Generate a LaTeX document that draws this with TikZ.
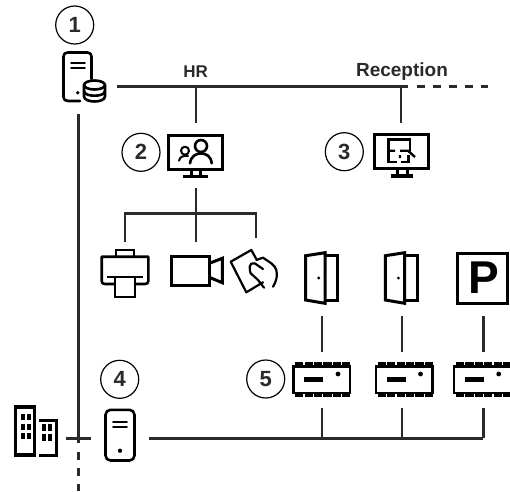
\documentclass[tikz,border=0pt]{standalone}
\usepackage{fontspec}
\setmainfont{Liberation Sans}
\definecolor{ink}{HTML}{000000}
\definecolor{wire}{HTML}{2A2A2C}
\tikzset{
  numcircle/.style={circle,draw=ink,line width=1.2pt,minimum size=38pt,inner sep=0pt,font=\bfseries\fontsize{22}{24}\selectfont,text=wire},
  lbl/.style={inner sep=0pt,font=\bfseries\fontsize{17}{18}\selectfont,text=wire},
  wireline/.style={draw=wire,line width=2.4pt},
  dashline/.style={draw=wire,line width=2.4pt,dash pattern=on 7.5pt off 8.5pt},
  icon/.style={draw=ink,line width=3pt,line join=miter},
  iconr/.style={draw=ink,line width=2.6pt,line join=round,line cap=round},
}
\newcommand{\doorIcon}[1]{\begin{scope}[shift={(#1,0)}]
  \draw[icon] (305.7,255.7) -- (325,252.7) -- (325,303.3) -- (305.7,300) -- cycle;
  \draw[icon] (325,255.7) -- (337.7,255.7) -- (337.7,300.7) -- (325,300.7);
  \fill[ink] (318.7,278) circle (1.6);
\end{scope}}
\newcommand{\ctrlIcon}[1]{\begin{scope}[shift={(#1,0)}]
  \draw[icon,line width=2.4pt] (293.5,366.5) rectangle (350,393);
  \foreach \i in {0,...,5}{
    \fill[ink] (295.2+\i*9.4,362) rectangle ++(8.2,4);
    \fill[ink] (295.2+\i*9.4,393.5) rectangle ++(8.2,3.4);
  }
  \fill[ink] (304,377) rectangle (323.3,382);
  \fill[ink] (338,374) circle (2.4);
\end{scope}}
\begin{document}
\begin{tikzpicture}[x=1pt,y=-1pt]
\clip (0,0) rectangle (510,491);
\fill[white] (0,0) rectangle (510,491);
% number circles
\node[numcircle] (n1) at (74.7,25) {1};
\node[numcircle] (n2) at (141,152.3) {2};
\node[numcircle] (n3) at (344.3,151.7) {3};
\node[numcircle] (n4) at (119.7,379.3) {4};
\node[numcircle] (n5) at (265.7,379) {5};
% labels
\node[lbl] (hr) at (195.7,72) {HR};
\node[lbl,font=\bfseries\fontsize{19}{20}\selectfont] (rec) at (402,71.5) {Reception};
% connector coordinates
\coordinate (srvE) at (117.3,86.3);
\coordinate (hrT) at (195.7,86.3);
\coordinate (recT) at (401,86.3);
\coordinate (lineEnd) at (408,86.3);
\coordinate (dashStart) at (417.3,86.3);
\coordinate (dashEnd) at (488,86.3);
\coordinate (mon2N) at (195.7,123.3);
\coordinate (mon3N) at (401,122.7);
\coordinate (mon2S) at (195.7,188.3);
\coordinate (busL) at (125,213.3);
\coordinate (busR) at (255.7,213.3);
\coordinate (prnN) at (125,241.7);
\coordinate (camN) at (195.7,241.7);
\coordinate (cardN) at (255.7,238.3);
\coordinate (srvS) at (78.3,114.3);
\coordinate (crossW) at (65.7,438.3);
\coordinate (crossE) at (91,438.3);
\coordinate (backS) at (78.3,443.3);
\coordinate (backD) at (78.3,452.3);
\coordinate (backEnd) at (78.3,491);
\coordinate (srv4E) at (149.3,438.3);
\coordinate (bus4R) at (483.3,438.3);
\foreach \n/\x in {a/321.7,b/401.7,c/483.3}{
  \coordinate (t\n) at (\x,316);
  \coordinate (m\n) at (\x,352);
  \coordinate (u\n) at (\x,408);
  \coordinate (d\n) at (\x,438.3);
}
% connectors
\draw[wireline] (srvE) -- (lineEnd);
\draw[dashline] (dashStart) -- (dashEnd);
\draw[wireline] (hrT) -- (mon2N);
\draw[wireline] (recT) -- (mon3N);
\draw[wireline] (mon2S) -- (camN);
\draw[wireline] (prnN) -- (busL) -- (busR) -- (cardN);
\draw[wireline] (srvS) -- (backS);
\draw[dashline,dash pattern=on 8pt off 8pt] (backD) -- (backEnd);
\draw[wireline] (crossW) -- (crossE);
\draw[wireline] (srv4E) -- (bus4R);
\foreach \n in {a,b,c}{
  \draw[wireline] (t\n) -- (m\n);
  \draw[wireline] (u\n) -- (d\n);
}
% server 1 + database
\draw[iconr] (80,101) -- (68,101) .. controls (65,101) and (63.5,99.5) .. (63.5,97) -- (63.5,56.7) .. controls (63.5,54) and (65,52.5) .. (67.7,52.5) -- (87.3,52.5) .. controls (90,52.5) and (91.5,54) .. (91.5,56.7) -- (91.5,79);
\draw[iconr,line width=1.9pt] (71,63.3) -- (85,63.3) (71,67.7) -- (85,67.7);
\fill[ink] (77.7,92.7) circle (1.9);
\draw[iconr] (94.5,85) ellipse (10.5 and 4.5);
\draw[iconr] (84,85) -- (84,96.5) .. controls (84,100) and (90,101.5) .. (94.5,101.5) .. controls (99,101.5) and (105,100) .. (105,96.5) -- (105,85);
\draw[iconr] (84,91) .. controls (84,94.5) and (90,95.7) .. (94.5,95.7) .. controls (99,95.7) and (105,94.5) .. (105,91);
% monitor 2
\draw[icon] (168.5,135) rectangle (222,169);
\draw[icon] (191,169) -- (191,176) (200,169) -- (200,176);
\draw[icon,line width=3.4pt] (183.3,176.5) -- (208.3,176.5);
\draw[iconr] (201,146) circle (6);
\draw[iconr] (190,163.3) .. controls (191,156) and (196,153.5) .. (201,153.5) .. controls (206,153.5) and (211,156) .. (211.7,163.3);
\draw[iconr,line width=2pt] (185,150.7) circle (4);
\draw[iconr,line width=2pt] (179,160.7) .. controls (180,156.5) and (183,155.5) .. (188,156);
% monitor 3
\draw[icon] (374,134.5) rectangle (428.3,168.3);
\draw[icon] (397,168.3) -- (397,175) (407,168.3) -- (407,175);
\draw[icon,line width=3.4pt] (390.7,176) -- (412.7,176);
\begin{scope}[icon,line width=2.4pt]
\draw (410,152) -- (410,139.5) -- (388.5,139.5) -- (388.5,161.7) -- (397,161.7) (400.5,161.7) -- (408.5,161.7) -- (408.5,155);
\draw (388.5,150.7) -- (395,150.7) (400,150.7) -- (408,150.7) -- (415,157) (400,155) -- (400,158);
\end{scope}
% printer
\draw[iconr] (115,284) -- (105,284) .. controls (103,284) and (101.7,283) .. (101.7,281) -- (101.7,256.7) -- (148.3,256.7) -- (148.3,281) .. controls (148.3,283) and (147,284) .. (145,284) -- (135,284);
\draw[icon,line width=2.4pt] (116,256.7) -- (116,250) -- (134,250) -- (134,256.7);
\draw[icon,line width=2.4pt] (115,277) rectangle (135,296.7);
\draw[icon,line width=2.4pt] (107.3,276.7) -- (142.7,276.7);
% camera
\draw[icon] (171,256) rectangle (209.3,285.7);
\draw[icon] (209.3,263.3) -- (222.3,258.3) -- (222.3,282.7) -- (209.3,277.3);
% card + hand
\draw[iconr,line width=2.2pt] (256.3,259) -- (251.3,250) -- (230.7,261.7) -- (246.3,292.3) -- (263,282.3);
\draw[iconr,line width=2.2pt] (256.3,260) -- (263,257.7) -- (271.3,263.3) .. controls (274,265.5) and (276,268) .. (276.3,270) .. controls (277.5,275) and (277,280) .. (273,286.7);
\draw[iconr,line width=2.2pt] (263,269) -- (254.7,263.3) .. controls (252,262.5) and (249.7,264) .. (249.7,266.7) .. controls (249.7,270) and (250,272) .. (250.7,273.3) -- (258,280) -- (264,287.7);
% doors
\doorIcon{0}
\doorIcon{79.7}
% parking
\draw[icon] (457.5,253.8) rectangle (507.3,303);
\node[inner sep=0pt,font=\bfseries\fontsize{46}{48}\selectfont,text=ink] (park) at (483.5,278) {P};
% controllers
\ctrlIcon{0}
\ctrlIcon{82.5}
\ctrlIcon{160.7}
% server 4
\draw[draw=ink,line width=2.6pt,rounded corners=5pt] (105.5,409.8) rectangle (134.5,460.5);
\draw[iconr,line width=1.9pt] (113,421.7) -- (127,421.7) (113,426.7) -- (127,426.7);
\fill[ink] (120,450.7) circle (2.1);
% buildings
\draw[icon,line width=3.2pt] (15.5,407) rectangle (34.5,455);
\draw[icon,line width=3pt] (39.3,420) -- (56.5,420) -- (56.5,455) -- (39.3,455);
\foreach \y in {413.5,423.5,432.5}{
  \fill[ink] (20.5,\y) rectangle ++(4.2,6.5);
  \fill[ink] (26.5,\y) rectangle ++(4,6.5);
}
\foreach \y in {424,434}{
  \fill[ink] (42.3,\y) rectangle ++(3.9,7);
  \fill[ink] (47.7,\y) rectangle ++(3.9,7);
}
\end{tikzpicture}
\end{document}
